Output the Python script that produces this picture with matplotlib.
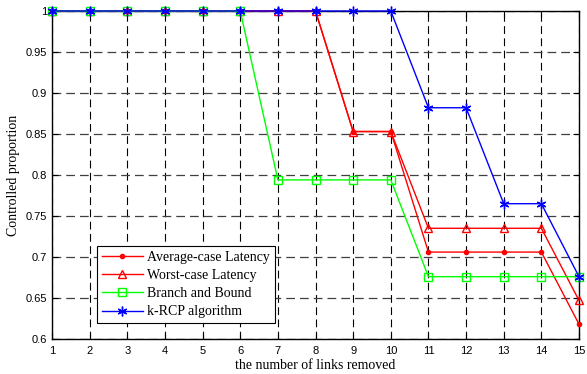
import matplotlib.pyplot as plt

links = list(range(1, 16))
avg_latency = [1, 1, 1, 1, 1, 1, 1, 1, 0.853, 0.853, 0.706, 0.706, 0.706, 0.706, 0.618]
worst_latency = [1, 1, 1, 1, 1, 1, 1, 1, 0.853, 0.853, 0.735, 0.735, 0.735, 0.735, 0.647]
branch_bound = [1, 1, 1, 1, 1, 1, 0.794, 0.794, 0.794, 0.794, 0.676, 0.676, 0.676, 0.676, 0.676]
krcp = [1, 1, 1, 1, 1, 1, 1, 1, 1, 1, 0.882, 0.882, 0.765, 0.765, 0.676]
yticks = [0.6, 0.65, 0.7, 0.75, 0.8, 0.85, 0.9, 0.95, 1]
ytick_labels = ['0.6', '0.65', '0.7', '0.75', '0.8', '0.85', '0.9', '0.95', '1']

serif = 'Liberation Serif'
sans = 'Liberation Sans'

fig = plt.figure(figsize=(5.87, 3.74), dpi=100)
ax = fig.add_axes([0.0886, 0.0936, 0.8978, 0.877])

ax.plot(links, avg_latency, color='#ff0000', marker='.', markersize=6, linewidth=1,
        label='Average-case Latency', clip_on=False, zorder=3)
ax.plot(links, worst_latency, color='#ff0000', marker='^', markersize=6, linewidth=1,
        markerfacecolor='none', label='Worst-case Latency', clip_on=False, zorder=3)
ax.plot(links, branch_bound, color='#00ff00', marker='s', markersize=5.5, linewidth=1,
        markerfacecolor='none', label='Branch and Bound', clip_on=False, zorder=3)
ax.plot(links, krcp, color='#0000ff', marker=(6, 2, 0), markersize=7, linewidth=1,
        label='k-RCP algorithm', clip_on=False, zorder=3)

ax.set_xlim(1, 15)
ax.set_ylim(0.6, 1)
ax.set_xticks(links)
ax.set_yticks(yticks)
ax.set_yticklabels(ytick_labels)
for lab in ax.get_xticklabels() + ax.get_yticklabels():
    lab.set_fontfamily(sans)
    lab.set_fontsize(8)
ax.tick_params(direction='in', top=True, right=True, length=4, width=0.8)
ax.tick_params(axis='x', pad=5)
ax.xaxis.grid(True, color='black', linestyle=(0, (7, 4)), linewidth=0.8)
ax.yaxis.grid(True, color='0.25', linestyle=(0, (7, 4)), linewidth=0.9)
for s in ax.spines.values():
    s.set_linewidth(1)

ax.set_xlabel('the number of links removed', fontfamily=serif, fontsize=10, labelpad=2)
ax.set_ylabel('Controlled proportion', fontfamily=serif, fontsize=10, labelpad=4)

leg = ax.legend(loc='lower left', bbox_to_anchor=(0.085, 0.048), prop={'family': serif, 'size': 10},
                fancybox=False, framealpha=1, edgecolor='black', borderpad=0.35,
                labelspacing=0.38, handlelength=3.0, handletextpad=0.3, borderaxespad=0)
leg.get_frame().set_linewidth(0.8)

fig.savefig('out.png', dpi=100)
